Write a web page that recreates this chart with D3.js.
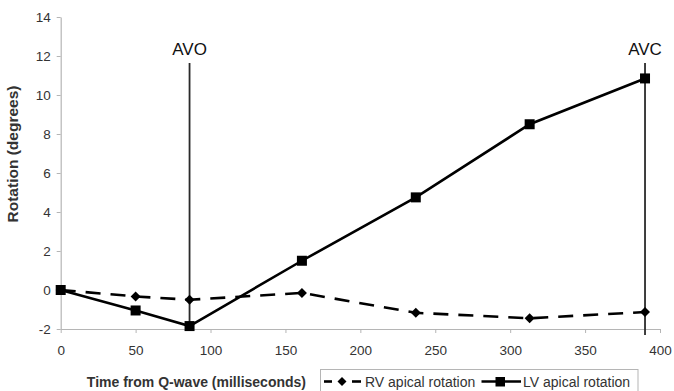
<!DOCTYPE html>
<html>
<head>
<meta charset="utf-8">
<script src="https://cdn.jsdelivr.net/npm/d3@7"></script>
<style>
  html, body { margin: 0; padding: 0; background: #fff; }
  svg { display: block; font-family: "Liberation Sans", Arial, sans-serif; }
</style>
</head>
<body>
<svg id="chart" width="674" height="391"></svg>
<script>
// Time from Q-wave (ms) for each measurement
const timesMs = [0, 50, 86, 161, 237, 313, 390];
// Apical rotation (degrees)
const rvRotation = [0, -0.33, -0.5, -0.15, -1.17, -1.45, -1.13];
const lvRotation = [0, -1.05, -1.85, 1.5, 4.75, 8.5, 10.85];
// Valve events
const eventLabels = ["AVO", "AVC"];
const eventTimes = [86, 390];
// Axis ticks
const xTicks = [0, 50, 100, 150, 200, 250, 300, 350, 400];
const yTicks = [-2, 0, 2, 4, 6, 8, 10, 12, 14];

const svg = d3.select("#chart");
const x = d3.scaleLinear().domain([0, 400]).range([60.7, 660]);
const y = d3.scaleLinear().domain([-2, 14]).range([329, 17]);

const axisColor = "#b5b5b5";
const textColor = "#333";

// Y axis
const yAxis = svg.append("g")
  .attr("transform", `translate(${x(0)},0)`)
  .call(d3.axisLeft(y).tickValues(yTicks).tickSize(4).tickSizeOuter(0).tickFormat(d3.format("d")));
yAxis.select(".domain").attr("stroke", axisColor).attr("stroke-width", 1.2);
yAxis.selectAll(".tick line").attr("stroke", axisColor);
yAxis.selectAll(".tick text").attr("fill", textColor).attr("font-size", 13.5).attr("x", -10)
  .text(d => d < 0 ? "-" + Math.abs(d) : d);

// X axis
const xAxis = svg.append("g")
  .attr("transform", `translate(0,${y(-2)})`)
  .call(d3.axisBottom(x).tickValues(xTicks).tickSize(4).tickSizeOuter(0).tickFormat(d3.format("d")));
xAxis.select(".domain").attr("stroke", axisColor).attr("stroke-width", 1.2);
xAxis.selectAll(".tick line").attr("stroke", axisColor);
xAxis.selectAll(".tick text").attr("fill", textColor).attr("font-size", 13.5)
  .attr("y", 16).attr("dy", "0.71em");

// Axis titles
svg.append("text")
  .attr("transform", `translate(18,154) rotate(-90)`)
  .attr("text-anchor", "middle")
  .attr("font-size", 15.5).attr("font-weight", "bold").attr("fill", textColor)
  .text("Rotation (degrees)");

svg.append("text")
  .attr("x", 306).attr("y", 386.5)
  .attr("text-anchor", "end")
  .attr("font-size", 14).attr("font-weight", "bold").attr("fill", textColor)
  .text("Time from Q-wave (milliseconds)");

// Valve event markers
eventTimes.forEach((t, i) => {
  svg.append("line")
    .attr("x1", x(t)).attr("x2", x(t))
    .attr("y1", 63).attr("y2", i === 1 ? y(-2) + 6 : y(-2))
    .attr("stroke", "#2a2a2a").attr("stroke-width", 1.8);
  svg.append("text")
    .attr("x", x(t)).attr("y", 55)
    .attr("text-anchor", "middle")
    .attr("font-size", 17).attr("fill", "#111")
    .text(eventLabels[i]);
});

const line = d3.line().x(d => x(d[0])).y(d => y(d[1]));
const rvData = timesMs.map((t, i) => [t, rvRotation[i]]);
const lvData = timesMs.map((t, i) => [t, lvRotation[i]]);

// RV: dashed with diamonds
svg.append("path").datum(rvData)
  .attr("d", line).attr("fill", "none")
  .attr("stroke", "#000").attr("stroke-width", 2.6)
  .attr("stroke-dasharray", "15,10");
svg.selectAll(".rv").data(rvData).enter().append("path")
  .attr("d", d3.symbol().type(d3.symbolSquare).size(50))
  .attr("transform", d => `translate(${x(d[0])},${y(d[1])}) rotate(45)`)
  .attr("fill", "#000");

// LV: solid with squares
svg.append("path").datum(lvData)
  .attr("d", line).attr("fill", "none")
  .attr("stroke", "#000").attr("stroke-width", 2.6);
svg.selectAll(".lv").data(lvData).enter().append("rect")
  .attr("x", d => x(d[0]) - 5).attr("y", d => y(d[1]) - 5)
  .attr("width", 10).attr("height", 10)
  .attr("fill", "#000");

// Legend
const lg = svg.append("g");
lg.append("rect")
  .attr("x", 320.5).attr("y", 369.5).attr("width", 317.5).attr("height", 24)
  .attr("fill", "#fff").attr("stroke", "#b5b5b5");
[[324, 332], [352, 361]].forEach(([a, b]) => {
  lg.append("line").attr("x1", a).attr("x2", b).attr("y1", 381.5).attr("y2", 381.5)
    .attr("stroke", "#000").attr("stroke-width", 2.6);
});
lg.append("path").attr("d", d3.symbol().type(d3.symbolSquare).size(40))
  .attr("transform", "translate(342,381.5) rotate(45)").attr("fill", "#000");
lg.append("text").attr("x", 365).attr("y", 386.5).attr("font-size", 14).attr("fill", textColor)
  .text("RV apical rotation");
lg.append("line").attr("x1", 481.5).attr("x2", 521).attr("y1", 381.5).attr("y2", 381.5)
  .attr("stroke", "#000").attr("stroke-width", 2.6);
lg.append("rect").attr("x", 495.5).attr("y", 377).attr("width", 9.5).attr("height", 9.5).attr("fill", "#000");
lg.append("text").attr("x", 523).attr("y", 386.5).attr("font-size", 14).attr("fill", textColor)
  .text("LV apical rotation");
</script>
</body>
</html>
